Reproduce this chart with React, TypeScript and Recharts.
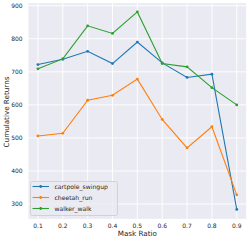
import React from 'react';
import { LineChart, Line, XAxis, YAxis, CartesianGrid, Legend } from 'recharts';

const maskRatios = [0.1, 0.2, 0.3, 0.4, 0.5, 0.6, 0.7, 0.8, 0.9];
const cartpoleSwingup = [722, 738, 762, 725, 790, 727, 683, 693, 284];
const cheetahRun = [506, 514, 614, 629, 678, 556, 470, 534, 328];
const walkerWalk = [709, 739, 839, 816, 881, 725, 715, 652, 600];
const yTicks = [300, 400, 500, 600, 700, 800, 900];

const seriesNames = ['cartpole_swingup', 'cheetah_run', 'walker_walk'];
const seriesColors = ['#1f77b4', '#ff7f0e', '#2ca02c'];

const data = maskRatios.map((m, i) => ({
  m,
  cartpole_swingup: cartpoleSwingup[i],
  cheetah_run: cheetahRun[i],
  walker_walk: walkerWalk[i],
}));

const FONT = '"DejaVu Sans", sans-serif';
const TEXT = '#262626';

const LegendBox = () => (
  <svg width={88} height={35} style={{ display: 'block', fontFamily: FONT }}>
    <rect x={0.5} y={0.5} width={87} height={34} rx={2} ry={2} fill="#EAEAF2" fillOpacity={0.8} stroke="#cccccc" strokeWidth={0.8} />
    {seriesNames.map((n, i) => {
      const y = 5.5 + i * 11;
      return (
        <g key={n}>
          <line x1={2.5} x2={19} y1={y} y2={y} stroke={seriesColors[i]} strokeWidth={1.1} />
          <circle cx={10.7} cy={y} r={1.4} fill={seriesColors[i]} />
          <text x={24.5} y={y} dy="0.35em" fontSize={6.1} fill={TEXT}>{n}</text>
        </g>
      );
    })}
  </svg>
);

const YLabel = () => (
  <text x={8.6} y={112} transform="rotate(-90 8.6 112)" textAnchor="middle" fontSize={7.2} fill={TEXT} fontFamily={FONT}>
    Cumulative Returns
  </text>
);

export default function App() {
  return (
    <div style={{ position: 'absolute', left: 0, top: 0, width: 249, height: 241, background: '#ffffff' }}>
      <LineChart width={249} height={241} data={data} margin={{ top: 2.7, right: 2.3, left: 0, bottom: 0 }}>
        <CartesianGrid stroke="#ffffff" strokeWidth={0.9} fill="#EAEAF2" fillOpacity={1} />
        <XAxis
          dataKey="m"
          type="number"
          domain={[0.06, 0.94]}
          ticks={maskRatios}
          tickFormatter={(v: number) => v.toFixed(1)}
          axisLine={false}
          tickLine={false}
          tickSize={0}
          tickMargin={4}
          height={21.7}
          tick={{ fontSize: 6, fill: TEXT, fontFamily: FONT }}
          interval={0}
          label={{ value: 'Mask Ratio', position: 'insideBottom', offset: 5, fontSize: 7.2, fill: TEXT, fontFamily: FONT }}
        />
        <YAxis
          type="number"
          domain={[254, 909]}
          ticks={yTicks}
          axisLine={false}
          tickLine={false}
          tickSize={0}
          tickMargin={5.4}
          width={28}
          interval={0}
          allowDataOverflow
          tick={{ fontSize: 6, fill: TEXT, fontFamily: FONT }}
          label={{ content: () => <YLabel /> }}
        />
        {seriesNames.map((n, i) => (
          <Line
            key={n}
            type="linear"
            dataKey={n}
            stroke={seriesColors[i]}
            strokeWidth={1.1}
            dot={{ r: 1.4, fill: seriesColors[i], stroke: 'none' }}
            activeDot={false}
            isAnimationActive={false}
          />
        ))}
        <Legend
          layout="horizontal"
          verticalAlign="middle"
          align="center"
          content={() => <LegendBox />}
          wrapperStyle={{ position: 'absolute', left: 29.5, top: 180.5, width: 88, height: 35 }}
        />
      </LineChart>
    </div>
  );
}
